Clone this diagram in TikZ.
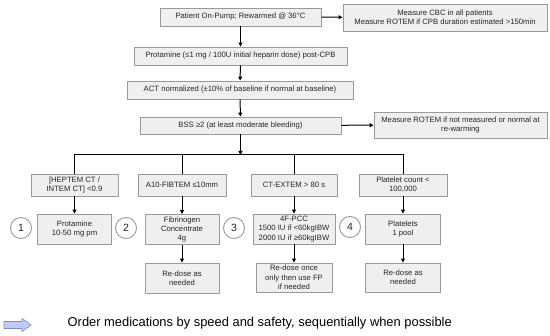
\documentclass[tikz,border=0pt]{standalone}
\usepackage{fontspec}
\setmainfont{Liberation Sans}
\usetikzlibrary{arrows.meta}
\definecolor{boxfill}{HTML}{EFEFEF}
\definecolor{boxline}{HTML}{9A9A9A}
\definecolor{arrfill}{HTML}{C3CBF2}
\definecolor{arrline}{HTML}{7F8DD6}
\definecolor{txt}{HTML}{262626}
\begin{document}
\begin{tikzpicture}[x=1pt,y=-1pt,
  box/.style={draw=boxline, fill=boxfill, line width=0.9pt, inner sep=1pt, align=center,
    font=\fontsize{7.7}{9.3}\selectfont, text=txt},
  arr/.style={-{Triangle[length=4pt,width=4pt]}, line width=1pt},
  ln/.style={line width=1pt},
  num/.style={circle, draw=boxline, fill=white, line width=0.9pt, minimum size=21pt,
    inner sep=0pt, font=\fontsize{10.5}{12}\selectfont, text=txt}]
\fill[white] (0,0) rectangle (550,336);
\useasboundingbox (0,0) rectangle (550,336);

% main column
\node[box, minimum width=161pt, minimum height=18pt] (b1) at (240.5,17) {Patient On-Pump; Rewarmed @ 36°C};
\node[box, minimum width=204pt, minimum height=27pt] (cbc) at (445,17.5) {Measure CBC in all patients\\Measure ROTEM if CPB duration estimated >150min};
\node[box, minimum width=213pt, minimum height=18pt] (b2) at (240.5,56) {Protamine (≤1 mg / 100U initial heparin dose) post-CPB};
\node[box, minimum width=226pt, minimum height=18pt] (b3) at (240,90) {ACT normalized (±10\% of baseline if normal at baseline)};
\node[box, minimum width=201pt, minimum height=17pt] (bss) at (240.5,125.5) {BSS ≥2 (at least moderate bleeding)};
\node[box, minimum width=173pt, minimum height=26pt] (rot) at (460.5,125) {Measure ROTEM if not measured or normal at\\re-warming};

% branch row
\node[box, minimum width=87pt, minimum height=22pt] (hep) at (74.5,185) {[HEPTEM CT /\\INTEM CT] <0.9};
\node[box, minimum width=88pt, minimum height=22pt] (fib) at (182,185) {A10-FIBTEM ≤10mm};
\node[box, minimum width=86pt, minimum height=22pt] (ext) at (294,185) {CT-EXTEM > 80 s};
\node[box, minimum width=88pt, minimum height=22pt] (plc) at (403,185) {Platelet count <\\100,000};

% treatment row
\node[box, minimum width=74pt, minimum height=30pt] (prot) at (74.5,229) {Protamine\\10-50 mg pm};
\node[box, minimum width=74pt, minimum height=30pt] (fibc) at (182,229.5) {Fibrinogen\\Concentrate\\4g};
\node[box, minimum width=82pt, minimum height=30pt] (pcc) at (294,229) {4F-PCC\\1500 IU if <60kgIBW\\2000 IU if ≥60kgIBW};
\node[box, minimum width=75pt, minimum height=30pt] (plt) at (403,229) {Platelets\\1 pool};

% re-dose row
\node[box, minimum width=74pt, minimum height=30pt] (r1) at (182,278) {Re-dose as\\needed};
\node[box, minimum width=76pt, minimum height=29pt] (r2) at (294,277.5) {Re-dose once\\only then use FP\\if needed};
\node[box, minimum width=75pt, minimum height=29pt] (r3) at (403,277.5) {Re-dose as\\needed};

% numbers
\node[num] (n1) at (21,228) {1};
\node[num] (n2) at (126,228) {2};
\node[num] (n3) at (234,228) {3};
\node[num] (n4) at (350,227) {4};

% connectors
\draw[arr] (b1) -- (cbc);
\draw[arr] (b1) -- (b2);
\draw[arr] (b2) -- (b3);
\draw[arr] (b3) -- (bss);
\draw[arr] (bss) -- (rot);
\coordinate (bar) at (240.5,155);
\draw[arr] (bss) -- (bar);
\draw[ln] (hep.north) -- (hep.north |- bar) -- (plc.north |- bar) -- (plc.north);
\draw[ln] (fib.north) -- (fib.north |- bar);
\draw[ln] (ext.north) -- (ext.north |- bar);
\draw[arr] (hep) -- (prot);
\draw[arr] (fib) -- (fibc);
\draw[arr] (ext) -- (pcc);
\draw[arr] (plc) -- (plt);
\draw[arr] (fibc) -- (r1);
\draw[arr] (pcc) -- (r2);
\draw[arr] (plt) -- (r3);

% legend
\draw[fill=arrfill, draw=arrline, line width=0.7pt]
  (4,321.5) -- (22,321.5) -- (22,318.5) -- (31,325) -- (22,331.5) -- (22,328.5) -- (4,328.5) -- cycle;
\node[anchor=west, inner sep=0pt, font=\fontsize{12.9}{15}\selectfont, text=black] (leg) at (67.5,323.5)
  {Order medications by speed and safety, sequentially when possible};
\end{tikzpicture}
\end{document}
